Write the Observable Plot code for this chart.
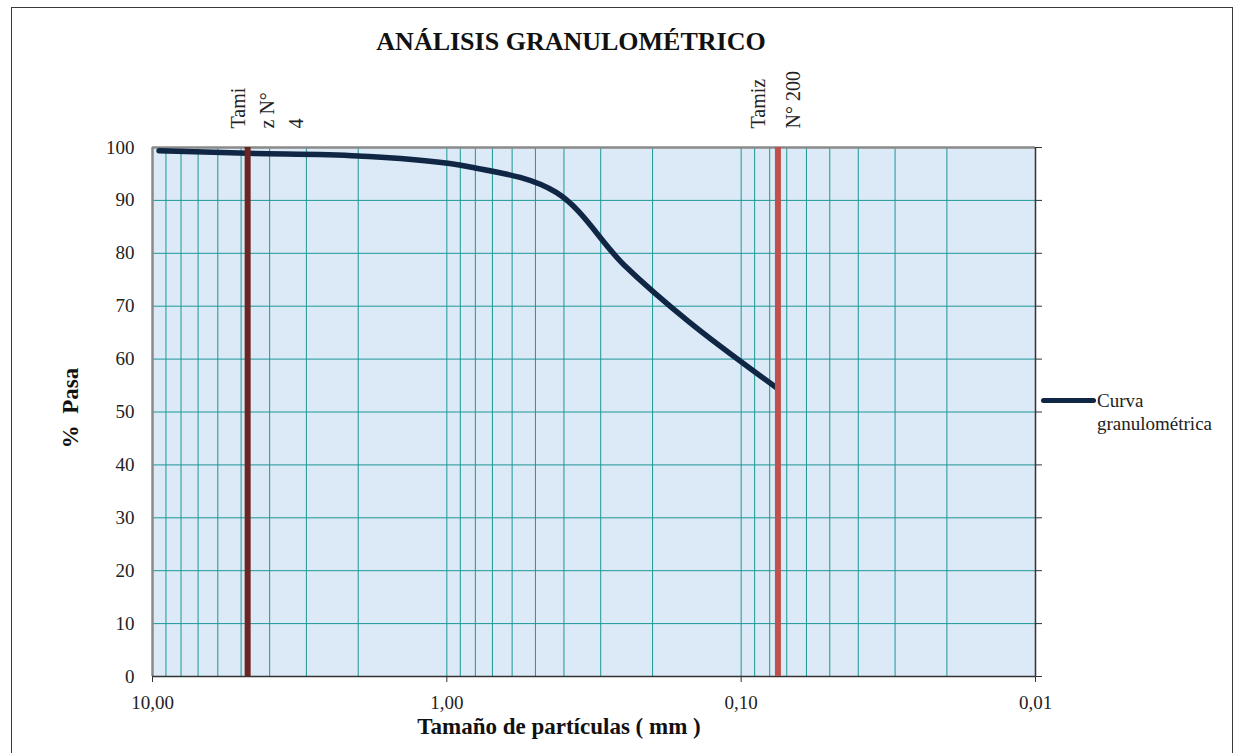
<!DOCTYPE html>
<html>
<head>
<meta charset="utf-8">
<script src="https://cdn.jsdelivr.net/npm/d3@7"></script>
<script src="https://cdn.jsdelivr.net/npm/@observablehq/plot@0.6"></script>
<style>
  html, body { margin: 0; padding: 0; background: #fff; overflow: hidden; }
  #wrap { position: relative; width: 1243px; height: 753px; font-family: "Liberation Serif", "Times New Roman", serif; }
  #border { position: absolute; left: 11px; top: 7px; width: 1222px; height: 800px; border: 1.5px solid #3a3a3a; box-sizing: border-box; pointer-events: none; }
  #chart { position: absolute; left: 0; top: 0; }
  .leg-line { position: absolute; left: 1041px; top: 398px; width: 55px; height: 5px; background: #0f2644; border-radius: 3px; }
  .leg-text { position: absolute; left: 1097px; top: 389px; font-size: 19px; line-height: 23px; color: #222; }
</style>
</head>
<body>
<div id="wrap">
  <div id="border"></div>
  <div id="chart"></div>
  <div class="leg-line"></div>
  <div class="leg-text">Curva<br>granulométrica</div>
</div>
<script>
// ---- data ----
const sizes = [9.5, 4.75, 2.0, 0.85, 0.425, 0.25, 0.15, 0.075];   // mm
const pasa  = [99.4, 98.9, 98.4, 96.4, 91.5, 77.8, 67.0, 54.4];    // % pasa
const sieveSizes  = [4.75, 0.075];
const sieveLabels = ["Tami\nz N°\n4", "Tamiz\nN° 200"];
const sieveColors = ["#6b2522", "#c0504d"];
const xTicks = [10, 1, 0.1, 0.01];
const xTickLabels = ["10,00", "1,00", "0,10", "0,01"];
const yTicks = [0, 10, 20, 30, 40, 50, 60, 70, 80, 90, 100];
const title = "ANÁLISIS GRANULOMÉTRICO";
const xTitle = "Tamaño de partículas ( mm )";
const yTitle = "%  Pasa";

const curve = sizes.map((s, i) => ({size: s, pasa: pasa[i]}));
const sieves = sieveSizes.map((s, i) => ({size: s, label: sieveLabels[i], color: sieveColors[i]}));
const minorX = d3.scaleLog().domain([0.01, 10]).ticks();

const teal = "#1c9897";
const font = "Liberation Serif, Times New Roman, serif";

const chart = Plot.plot({
  width: 1243,
  height: 753,
  marginLeft: 152,
  marginRight: 208,
  marginTop: 147,
  marginBottom: 77,
  style: {fontFamily: font, fontSize: "19px", background: "transparent", color: "#222", overflow: "visible"},
  x: {type: "log", domain: [xTicks[0], xTicks[xTicks.length - 1]]},
  y: {domain: [yTicks[0], yTicks[yTicks.length - 1]]},
  marks: [
    Plot.frame({fill: "#dce9f6", stroke: "none"}),
    Plot.gridX(minorX, {stroke: teal, strokeOpacity: 1, strokeWidth: 1}),
    Plot.gridY(yTicks, {stroke: teal, strokeOpacity: 1, strokeWidth: 1}),
    // borders
    Plot.ruleX([xTicks[0]], {stroke: "#8a8a8a", strokeWidth: 2.5}),
    Plot.ruleY([yTicks[yTicks.length - 1]], {stroke: "#8a8a8a", strokeWidth: 2.5}),
    Plot.ruleX([xTicks[xTicks.length - 1]], {stroke: "#333", strokeWidth: 1.5}),
    Plot.ruleY([yTicks[0]], {stroke: "#333", strokeWidth: 1.5}),
    // axes
    Plot.axisX(xTicks, {tickSize: 6, tickPadding: 13, tickFormat: (d) => xTickLabels[xTicks.indexOf(d)], label: null, stroke: "#333", fontSize: 19, fill: "#222"}),
    Plot.axisY(yTicks, {anchor: "left", tickSize: 0, tickPadding: 18, label: null, fontSize: 19, fill: "#222"}),
    Plot.axisY(yTicks, {anchor: "right", tickSize: 6, tickFormat: () => "", label: null, stroke: "#333"}),
    // curve
    Plot.line(curve, {x: "size", y: "pasa", curve: "catmull-rom", stroke: "#0f2644", strokeWidth: 5.5, strokeLinecap: "round"}),
    // sieve lines
    Plot.ruleX(sieves, {x: "size", y1: yTicks[0], y2: yTicks[yTicks.length - 1], stroke: "color", strokeWidth: 6}),
    Plot.text([sieves[0]], {x: "size", frameAnchor: "top", text: "label", rotate: -90, textAnchor: "start", lineAnchor: "top", lineHeight: 1.45, dx: -23, dy: -19, fontSize: 20, fill: "#222"}),
    Plot.text([sieves[1]], {x: "size", frameAnchor: "top", text: "label", rotate: -90, textAnchor: "start", lineAnchor: "top", lineHeight: 1.75, dx: -38, dy: -19, fontSize: 20, fill: "#222"}),
    // titles
    Plot.text([title], {frameAnchor: "top", textAnchor: "middle", dx: -23, dy: -106, fontSize: 26, fontWeight: "bold", fill: "#111", lineAnchor: "middle"}),
    Plot.text([xTitle], {frameAnchor: "bottom", textAnchor: "middle", dx: -35, dy: 50, fontSize: 23, fontWeight: "bold", fill: "#111", lineAnchor: "middle"}),
    Plot.text([yTitle], {frameAnchor: "left", textAnchor: "middle", dx: -82, dy: -4, rotate: -90, fontSize: 23, fontWeight: "bold", fill: "#111", lineAnchor: "middle"})
  ]
});
chart.querySelectorAll("text").forEach(t => t.setAttribute("xml:space", "preserve"));
document.getElementById("chart").appendChild(chart);
</script>
</body>
</html>
